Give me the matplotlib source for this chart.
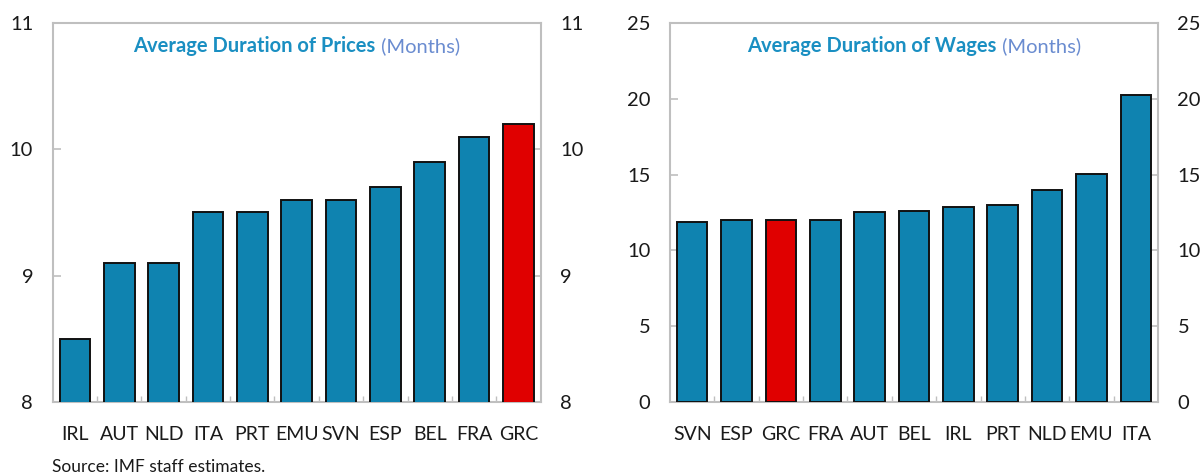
import matplotlib
matplotlib.use("Agg")
import matplotlib.pyplot as plt
from matplotlib.ticker import FixedLocator

plt.rcParams["font.family"] = ["Lato", "DejaVu Sans"]

# Average duration of prices (months)
price_countries = ["IRL", "AUT", "NLD", "ITA", "PRT", "EMU", "SVN", "ESP", "BEL", "FRA", "GRC"]
price_months = [8.5, 9.1, 9.1, 9.5, 9.5, 9.6, 9.6, 9.7, 9.9, 10.1, 10.2]

# Average duration of wages (months)
wage_countries = ["SVN", "ESP", "GRC", "FRA", "AUT", "BEL", "IRL", "PRT", "NLD", "EMU", "ITA"]
wage_months = [11.85, 12.0, 12.0, 12.0, 12.5, 12.6, 12.85, 13.0, 14.0, 15.05, 20.25]

highlight = "GRC"
BLUE = "#0f83b0"
RED = "#e00000"
GRID = "#bfbfbf"
TXT = "#1a1a1a"


def draw_panel(ax, countries, values, ylim, yticks, title):
    colors = [RED if c == highlight else BLUE for c in countries]
    x = range(len(countries))
    ax.bar(x, values, width=0.69, color=colors, edgecolor="#111111", linewidth=1.4, zorder=3)
    ax.set_xlim(-0.5, len(countries) - 0.5)
    ax.set_ylim(*ylim)
    ax.set_yticks(yticks)
    ax.set_xticks(list(x))
    ax.set_xticklabels(countries)
    ax.xaxis.set_minor_locator(FixedLocator([i + 0.5 for i in range(len(countries) - 1)]))
    ax.tick_params(axis="x", which="major", length=0, pad=17.5, labelsize=14, colors=TXT)
    ax.tick_params(axis="x", which="minor", direction="in", length=4, width=1, color=GRID, top=False)
    ax.tick_params(axis="y", direction="in", length=6, width=1.2, color=GRID,
                   left=True, right=True, labelleft=True, labelright=True,
                   pad=14, labelsize=14.5, labelcolor=TXT)
    for s in ax.spines.values():
        s.set_color(GRID)
        s.set_linewidth(1.5)

    # title: bold part + light part, centred together
    t1 = ax.text(0.5, 0.94, title, transform=ax.transAxes, ha="left", va="center",
                 fontsize=14.5, fontweight="bold", color="#1a8fc2")
    t2 = ax.annotate(" (Months)", xy=(1, 0.5), xycoords=t1, ha="left", va="center",
                     fontsize=14.5, color="#6a8cd0")
    return t1, t2


fig = plt.figure(figsize=(12.02, 4.75), dpi=100)
ax1 = fig.add_axes([0.0438, 0.1543, 0.406, 0.797])
ax2 = fig.add_axes([0.5574, 0.1543, 0.406, 0.797])

titles = [
    draw_panel(ax1, price_countries, price_months, (8, 11), [8, 9, 10, 11], "Average Duration of Prices"),
    draw_panel(ax2, wage_countries, wage_months, (0, 25), [0, 5, 10, 15, 20, 25], "Average Duration of Wages"),
]

# centre each two-part title over its panel
renderer = fig.canvas.get_renderer()
for ax, (t1, t2) in zip([ax1, ax2], titles):
    b1 = t1.get_window_extent(renderer)
    b2 = t2.get_window_extent(renderer)
    total = b2.x1 - b1.x0
    axb = ax.get_window_extent(renderer)
    x0 = axb.x0 + (axb.width - total) / 2
    t1.set_x((x0 - axb.x0) / axb.width)

fig.text(0.043, 0.006, "Source: IMF staff estimates.", fontsize=12.5, color=TXT,
         ha="left", va="baseline")

fig.savefig("out.png", dpi=100)
